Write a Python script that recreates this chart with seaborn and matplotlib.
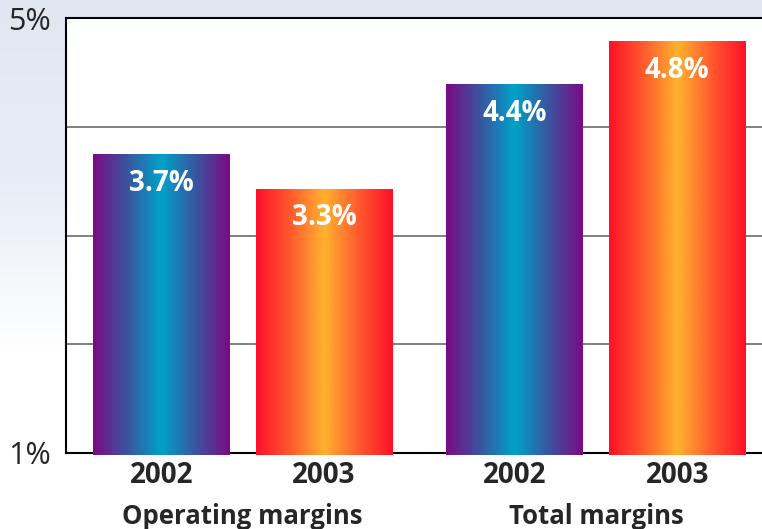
import matplotlib.pyplot as plt
import seaborn as sns
import numpy as np
import pandas as pd
from matplotlib.colors import LinearSegmentedColormap

# data
groups = ["Operating margins", "Operating margins", "Total margins", "Total margins"]
years = ["2002", "2003", "2002", "2003"]
bar_heights = [3.75, 3.43, 4.39, 4.79]   # as drawn in the picture
value_labels = ["3.7%", "3.3%", "4.4%", "4.8%"]
group_names = ["Operating margins", "Total margins"]
y_ticks = [1, 2, 3, 4, 5]
y_tick_labels = ["1%", "", "", "", "5%"]

df = pd.DataFrame({"group": groups, "year": years, "margin": bar_heights})

sns.set_style("white")
plt.rcParams["font.family"] = ["Open Sans", "DejaVu Sans"]

fig = plt.figure(figsize=(7.62, 5.29), dpi=100)

# light blue wash at the top of the figure
bg = fig.add_axes([0, 0, 1, 1], zorder=-10)
bg_cmap = LinearSegmentedColormap.from_list("bg", ["#dfe8f2", "#e6edf6", "#ffffff", "#ffffff"])
bg.imshow(np.linspace(0, 1, 256).reshape(-1, 1), cmap=bg_cmap, aspect="auto",
          extent=[0, 1, 0, 1], origin="upper")
bg.set_axis_off()

ax = fig.add_axes([66 / 762, 76 / 529, 696 / 762, 435 / 529])
ax.set_facecolor("white")

sns.barplot(data=df, x="group", y="margin", hue="year", width=0.92, gap=0.16,
            palette=["#00a0c6", "#ffb030"], legend=False, ax=ax, errorbar=None)

cool = LinearSegmentedColormap.from_list("cool", ["#7a0a85", "#3a55a0", "#00a2c8", "#3a55a0", "#7a0a85"])
warm = LinearSegmentedColormap.from_list("warm", ["#ff1028", "#ff5a2e", "#ffb22e", "#ff5a2e", "#ff1028"])
row = np.linspace(0, 1, 256).reshape(1, -1)

bars = sorted(ax.patches, key=lambda p: p.get_x())
for bar, yr, lab in zip(bars, years, value_labels):
    x0, w, h = bar.get_x(), bar.get_width(), bar.get_height()
    bar.set_facecolor("none")
    bar.set_edgecolor("none")
    im = ax.imshow(row, cmap=cool if yr == "2002" else warm, aspect="auto",
                   extent=[x0, x0 + w, 0.98, h], zorder=3)
    im.set_clip_path(bar)
    cx = x0 + w / 2
    ax.annotate(lab, (cx, h), xytext=(0, -21), textcoords="offset points",
                ha="center", va="center", color="white", fontsize=20,
                fontweight="bold", zorder=5)
    ax.annotate(yr, (cx, 0), xycoords=("data", "axes fraction"), xytext=(0, -16.5),
                textcoords="offset points", ha="center", va="center",
                fontsize=20, fontweight="bold", annotation_clip=False)

for i, name in enumerate(group_names):
    ax.annotate(name, (i, 0), xycoords=("data", "axes fraction"), xytext=(0, -46),
                textcoords="offset points", ha="center", va="center",
                fontsize=18.5, fontweight="bold", annotation_clip=False)

ax.set_xlim(-0.5, 1.47)
ax.set_ylim(1, 5)
ax.set_xticks([])
ax.set_yticks(y_ticks)
ax.set_yticklabels(y_tick_labels, fontsize=22)
ax.tick_params(axis="y", length=0, pad=11)
ax.set_xlabel("")
ax.set_ylabel("")
ax.yaxis.grid(True, color="#808080", lw=1.4)
ax.set_axisbelow(True)

for side in ["left", "bottom", "top"]:
    ax.spines[side].set_visible(True)
    ax.spines[side].set_color("black")
    ax.spines[side].set_linewidth(1.5)
ax.spines["right"].set_visible(False)

fig.savefig("out.png", dpi=100)
